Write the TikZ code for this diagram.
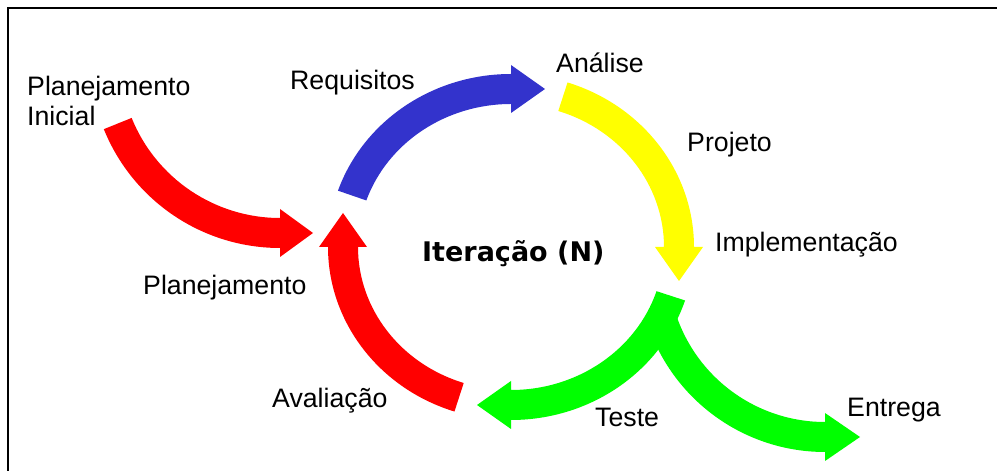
\documentclass[tikz,border=0pt]{standalone}
\usepackage{fontspec}
\setmainfont{Liberation Sans}
\newfontfamily\iterfont{DejaVu Sans}
\usetikzlibrary{calc}
\definecolor{cred}{RGB}{255,0,0}
\definecolor{cblue}{RGB}{51,51,204}
\definecolor{cyellow}{RGB}{255,255,0}
\definecolor{cgreen}{RGB}{0,255,0}
\begin{document}
\begin{tikzpicture}[x=1pt,y=1pt,
  lbl/.style={inner sep=0pt, anchor=base west, font=\fontsize{26.7}{30}\selectfont},
  titlelbl/.style={inner sep=0pt, anchor=base west, font=\iterfont\bfseries\fontsize{27}{30}\selectfont},
  framestyle/.style={line width=2pt, black}]
\useasboundingbox (0,0) rectangle (997,471);
% frame
\coordinate (fb) at (8,0);
\coordinate (fc) at (8,463);
\coordinate (fr) at (997,463);
\draw[framestyle] (fb) -- (fc) -- (fr);
% centres
\coordinate (C) at (511,224);
\coordinate (P0) at (280,413);
\coordinate (E0) at (825,206);
% Planejamento Inicial arrow
\fill[cred] ($(P0)+(202:190pt)$) arc[start angle=202,end angle=270,radius=190pt]
  -- (280,214) -- (313,238) -- (280,262) -- (280,253)
  arc[start angle=270,end angle=202,radius=160pt] -- cycle;
% Requisitos (blue)
\fill[cblue] ($(C)+(161:183pt and 173pt)$) arc[start angle=161,end angle=90,x radius=183pt,y radius=173pt]
  -- (511,406) -- (545,382) -- (511,358) -- (511,367)
  arc[start angle=90,end angle=161,x radius=153pt,y radius=143pt] -- cycle;
% Projeto (yellow)
\fill[cyellow] ($(C)+(72:183pt and 173pt)$) arc[start angle=72,end angle=0,x radius=183pt,y radius=173pt]
  -- (703,224) -- (679,190) -- (655,224) -- (664,224)
  arc[start angle=0,end angle=72,x radius=153pt,y radius=143pt] -- cycle;
% Entrega (green)
\fill[cgreen] ($(E0)+(199:187pt)$) arc[start angle=199,end angle=270,radius=187pt]
  -- (825,10) -- (860,34) -- (825,58) -- (825,49)
  arc[start angle=270,end angle=199,radius=157pt] -- cycle;
% Teste (green)
\fill[cgreen] ($(C)+(-18:183pt and 173pt)$) arc[start angle=-18,end angle=-90,x radius=183pt,y radius=173pt]
  -- (511,42) -- (477,66) -- (511,90) -- (511,81)
  arc[start angle=-90,end angle=-18,x radius=153pt,y radius=143pt] -- cycle;
% Avaliacao (red)
\fill[cred] ($(C)+(-108:183pt and 173pt)$) arc[start angle=-108,end angle=-180,x radius=183pt,y radius=173pt]
  -- (319,224) -- (343,258) -- (367,224) -- (358,224)
  arc[start angle=180,end angle=252,x radius=153pt,y radius=143pt] -- cycle;
% labels
\node[lbl] (pi1) at (27,375) {Planejamento};
\node[lbl] (pi2) at (27,345) {Inicial};
\node[lbl] (req) at (290,381) {Requisitos};
\node[lbl] (ana) at (556,398) {Análise};
\node[lbl] (pro) at (687,319) {Projeto};
\node[lbl] (imp) at (715,219) {Implementação};
\node[titlelbl] (it) at (422,209) {Iteração (N)};
\node[lbl] (pla) at (143,176) {Planejamento};
\node[lbl] (ava) at (272,63) {Avaliação};
\node[lbl] (tes) at (595,44) {Teste};
\node[lbl] (ent) at (847,54) {Entrega};
\end{tikzpicture}
\end{document}
